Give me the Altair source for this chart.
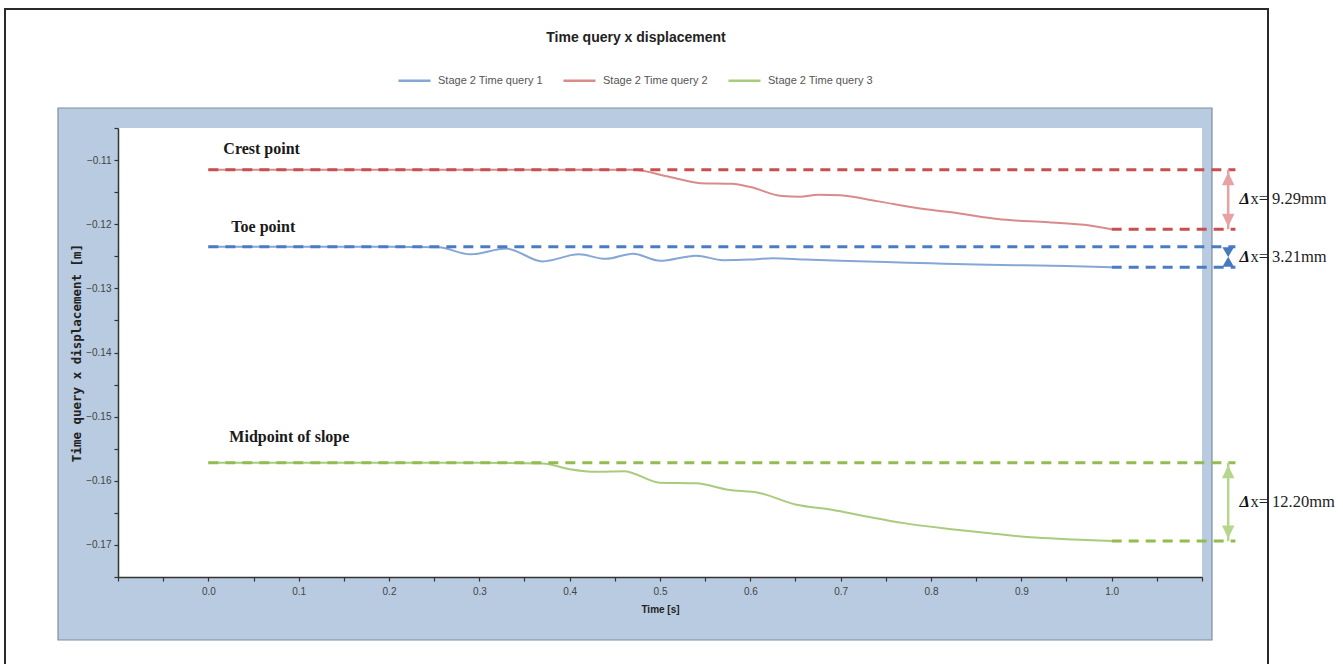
import altair as alt
import pandas as pd

# ---- series ---------------------------------------------------------------
series_names = ["Stage 2 Time query 1", "Stage 2 Time query 2", "Stage 2 Time query 3"]
point_names = ["Toe point", "Crest point", "Midpoint of slope"]
delta_mm = [3.21, 9.29, 12.20]

# Stage 2 Time query 1 (toe point)
t_q1 = [0.00, 0.10, 0.20, 0.255, 0.29, 0.33, 0.37, 0.41, 0.44, 0.47, 0.50, 0.54,
        0.57, 0.60, 0.625, 0.66, 0.70, 0.75, 0.80, 0.85, 0.90, 0.95, 1.00]
d_q1 = [-0.1235, -0.1235, -0.1235, -0.1236, -0.1247, -0.1238, -0.1258, -0.1247,
        -0.1254, -0.1246, -0.1257, -0.1249, -0.1256, -0.1255, -0.1253, -0.1255,
        -0.1257, -0.1259, -0.1261, -0.1263, -0.1264, -0.1265, -0.12671]

# Stage 2 Time query 2 (crest point)
t_q2 = [0.00, 0.10, 0.20, 0.30, 0.40, 0.47, 0.51, 0.545, 0.58, 0.60, 0.635, 0.655,
        0.675, 0.70, 0.74, 0.79, 0.83, 0.874, 0.93, 0.97, 1.00]
d_q2 = [-0.1115, -0.1115, -0.1115, -0.1115, -0.1115, -0.1115, -0.1126, -0.1136,
        -0.1137, -0.1142, -0.1156, -0.1157, -0.1154, -0.1155, -0.1164, -0.1176,
        -0.1183, -0.1192, -0.1197, -0.1201, -0.12079]

# Stage 2 Time query 3 (midpoint of slope)
t_q3 = [0.00, 0.10, 0.20, 0.30, 0.37, 0.40, 0.43, 0.46, 0.50, 0.54, 0.575, 0.61,
        0.65, 0.69, 0.73, 0.77, 0.82, 0.86, 0.91, 0.95, 1.00]
d_q3 = [-0.1572, -0.1572, -0.1572, -0.1572, -0.1573, -0.1582, -0.1586, -0.1585,
        -0.1603, -0.1604, -0.1614, -0.1619, -0.1637, -0.1645, -0.1656, -0.1666,
        -0.1675, -0.1681, -0.1688, -0.1691, -0.1694]

# ---- styling ---------------------------------------------------------------
line_colors = ["#86a7d3", "#d98a8a", "#a9cb7d"]
dash_colors = ["#4a7cc3", "#c94e4e", "#92bc4f"]
arrow_colors = ["#4779c0", "#e7a3a3", "#b5d68c"]

W, H = 1084, 449
X_DOMAIN = [-0.1, 1.1]
Y_DOMAIN = [-0.175, -0.105]
DASH_END = 1.137    # right end of the dashed reference levels (time units)
ARROW_T = 1.129     # time position of the delta arrows

SANS = "Liberation Sans"
SERIF = "Liberation Serif"

x_ticks = [round(-0.1 + 0.05 * i, 2) for i in range(25)]
y_ticks = [round(-0.175 + 0.005 * i, 3) for i in range(15)]

x_scale = alt.Scale(domain=X_DOMAIN, nice=False, zero=False)
y_scale = alt.Scale(domain=Y_DOMAIN, nice=False, zero=False)

x_axis = alt.Axis(
    values=x_ticks,
    labelExpr="(datum.value > -0.01 && datum.value < 1.01 && abs(round(datum.value * 20)) % 2 == 0) ? format(datum.value, '.1f') : ''",
    tickSize=4, tickColor="#333", tickWidth=1.2,
    domainColor="#333", domainWidth=1.5,
    labelFont=SANS, labelFontSize=10, labelColor="#444", labelPadding=5, labelOverlap=False,
    titleFont=SANS, titleFontSize=10, titleFontWeight="bold", titleColor="#222", titlePadding=8,
    grid=False, zindex=1,
)
y_axis = alt.Axis(
    values=y_ticks,
    labelExpr="abs(round(datum.value * 200)) % 2 == 0 ? format(datum.value, '.2f') : ''",
    tickSize=4, tickColor="#333", tickWidth=1.2,
    domainColor="#333", domainWidth=1.5,
    labelFont=SANS, labelFontSize=10, labelColor="#444", labelPadding=3, labelOverlap=False,
    titleFont="DejaVu Sans Mono", titleFontSize=12.5, titleFontWeight="bold", titleColor="#222",
    titlePadding=2,
    grid=False, zindex=1,
)


def X(field):
    return alt.X(field, type="quantitative", scale=x_scale, axis=x_axis, title="Time [s]")


def Y(field):
    return alt.Y(field, type="quantitative", scale=y_scale, axis=y_axis,
                 title="Time query x displacement [m]")


# ---- tables ----------------------------------------------------------------
lines_df = pd.concat([
    pd.DataFrame({"t": t, "d": d, "series": name})
    for t, d, name in zip((t_q1, t_q2, t_q3), (d_q1, d_q2, d_q3), series_names)
], ignore_index=True)

starts = [d_q1[0], d_q2[0], d_q3[0]]
ends = [s - dm / 1000 for s, dm in zip(starts, delta_mm)]
ann = pd.DataFrame({
    "name": point_names,
    "start": starts,
    "end": ends,
    "mid": [(s + e) / 2 for s, e in zip(starts, ends)],
    "delta_text": [f"x= {dm:.2f}mm" for dm in delta_mm],
    "dash_color": dash_colors,
    "arrow_color": arrow_colors,
    "t0": 0.0,
    "t1": 1.0,
    "t_dash": DASH_END,
    "t_arrow": ARROW_T,
})

# arrow heads: outward heads, or an inward "bow tie" when the gap is too short
px_per_unit = H / (Y_DOMAIN[1] - Y_DOMAIN[0])
head_rows = []
shaft_rows = []
for s, e, c in zip(starts, ends, arrow_colors):
    span_px = (s - e) * px_per_unit
    if span_px < 30:
        head_rows.append({"y": s, "c": c, "size": 441, "shape": "M-0.55,0.05L0.55,0.05L0,1Z"})
        head_rows.append({"y": e, "c": c, "size": 441, "shape": "M-0.55,-0.05L0.55,-0.05L0,-1Z"})
    else:
        head_rows.append({"y": s, "c": c, "size": 400, "shape": "M0,0.25L0.62,1.55L-0.62,1.55Z"})
        head_rows.append({"y": e, "c": c, "size": 400, "shape": "M0,-0.25L0.62,-1.55L-0.62,-1.55Z"})
        shaft_rows.append({"y": s, "y2": e, "c": c})
heads_df = pd.DataFrame(head_rows).assign(t=ARROW_T)
shafts_df = pd.DataFrame(shaft_rows).assign(t=ARROW_T)

one = alt.Data(values=[{}])

# ---- decoration: outer frame, panel, white plot area -----------------------
frame = alt.Chart(one).mark_rect(fill="white", stroke="#2a2a2a", strokeWidth=2).encode(
    x=alt.value(-113), x2=alt.value(1150), y=alt.value(-119), y2=alt.value(545)
)
panel = alt.Chart(one).mark_rect(fill="#b8cbe0", stroke="#7f8ea0", strokeWidth=1.2).encode(
    x=alt.value(-60), x2=alt.value(1094), y=alt.value(-20), y2=alt.value(512)
)
plot_bg = alt.Chart(one).mark_rect(fill="white").encode(
    x=alt.value(0), x2=alt.value(W), y=alt.value(0), y2=alt.value(H)
)

title = alt.Chart(one).mark_text(
    text="Time query x displacement", font=SANS, fontSize=14, fontWeight="bold",
    color="#222", align="center", baseline="middle"
).encode(x=alt.value(518), y=alt.value(-90))

# ---- data lines ------------------------------------------------------------
lines = alt.Chart(lines_df).mark_line(strokeWidth=2, interpolate="monotone").encode(
    x=X("t"),
    y=Y("d"),
    color=alt.Color(
        "series:N",
        scale=alt.Scale(domain=series_names, range=line_colors),
        legend=alt.Legend(
            orient="none", legendX=279, legendY=-65, direction="horizontal", title=None,
            symbolType="stroke", symbolSize=1024, symbolStrokeWidth=2.5,
            labelFont=SANS, labelFontSize=11, labelColor="#555", labelOffset=6,
            columnPadding=15, padding=0,
        ),
    ),
)

# ---- annotations -------------------------------------------------------------
dash_top = alt.Chart(ann).mark_rule(strokeWidth=3, strokeDash=[10, 7]).encode(
    x=X("t0"), x2="t_dash:Q", y=Y("start"), color=alt.Color("dash_color:N", scale=None)
)
dash_bottom = alt.Chart(ann).mark_rule(strokeWidth=3, strokeDash=[10, 7]).encode(
    x=X("t1"), x2="t_dash:Q", y=Y("end"), color=alt.Color("dash_color:N", scale=None)
)
shafts = alt.Chart(shafts_df).mark_rule(strokeWidth=2.5).encode(
    x=X("t"), y=Y("y"), y2="y2:Q", color=alt.Color("c:N", scale=None)
)
heads = alt.Chart(heads_df).mark_point(filled=True, opacity=1, strokeWidth=0).encode(
    x=X("t"), y=Y("y"),
    shape=alt.Shape("shape:N", scale=None),
    size=alt.Size("size:Q", scale=None),
    color=alt.Color("c:N", scale=None),
)

delta_sym = alt.Chart(ann).mark_text(
    text="Δ", font=SERIF, fontSize=16.5, fontWeight="bold", fontStyle="italic",
    color="#111", align="left", baseline="middle", dx=4
).encode(x=X("t_dash"), y=Y("mid"))
delta_val = alt.Chart(ann).mark_text(
    font=SERIF, fontSize=16.5, color="#222", align="left", baseline="middle", dx=15
).encode(x=X("t_dash"), y=Y("mid"), text="delta_text:N")

# point names above each starting level (pixel offsets per label)
label_offsets = {"Toe point": (23, -20), "Crest point": (15, -21), "Midpoint of slope": (21, -26)}
point_labels = [
    alt.Chart(ann[ann["name"] == nm]).mark_text(
        font=SERIF, fontSize=16, fontWeight="bold", color="#1a1a1a",
        align="left", baseline="middle", dx=off[0], dy=off[1]
    ).encode(x=X("t0"), y=Y("start"), text="name:N")
    for nm, off in label_offsets.items()
]

chart = alt.layer(
    frame, panel, plot_bg, title, lines, dash_top, dash_bottom, shafts, heads,
    delta_sym, delta_val, *point_labels
).properties(
    width=W, height=H,
    autosize="none",
    padding={"left": 118, "top": 128, "right": 141, "bottom": 87},
    background="white",
).configure_view(stroke="transparent")

chart.save("out.html", embed_options={"renderer": "svg", "actions": False})
